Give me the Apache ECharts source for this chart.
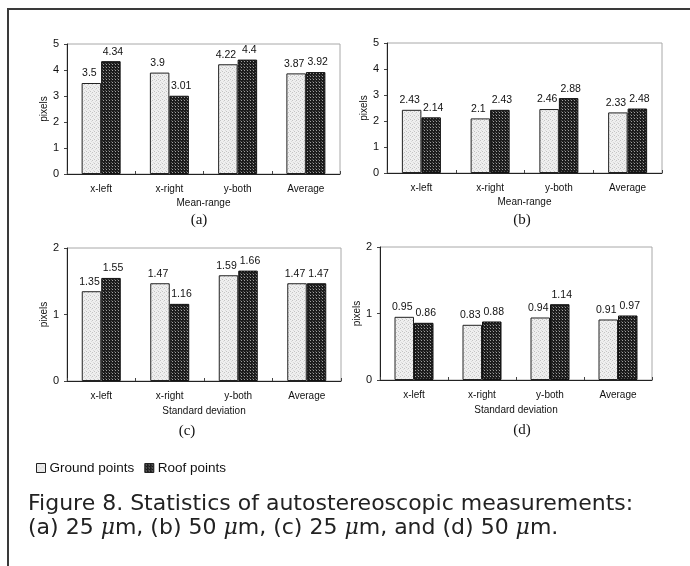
<!DOCTYPE html>
<html>
<head>
<meta charset="utf-8">
<script src="https://cdn.jsdelivr.net/npm/echarts@6/dist/echarts.min.js"></script>
<style>
  html, body { margin: 0; padding: 0; background: #fff; }
  #chart { width: 690px; height: 566px; }
</style>
</head>
<body>
<div id="chart"></div>
<script>
// data
const categories = ['x-left', 'x-right', 'y-both', 'Average'];
const groundA = [3.5, 3.9, 4.22, 3.87];
const roofA = [4.34, 3.01, 4.4, 3.92];
const groundB = [2.43, 2.1, 2.46, 2.33];
const roofB = [2.14, 2.43, 2.88, 2.48];
const groundC = [1.35, 1.47, 1.59, 1.47];
const roofC = [1.55, 1.16, 1.66, 1.47];
const groundD = [0.95, 0.83, 0.94, 0.91];
const roofD = [0.86, 0.88, 1.14, 0.97];
const yMax = [5, 5, 2, 2];
const xTitles = ['Mean-range', 'Mean-range', 'Standard deviation', 'Standard deviation'];
const panelLabels = ['(a)', '(b)', '(c)', '(d)'];
const seriesNames = ['Ground points', 'Roof points'];

const groundData = [groundA, groundB, groundC, groundD];
const roofData = [roofA, roofB, roofC, roofD];

// plot boxes: left, top, width, height
const boxes = [
  [67, 44, 273, 130],
  [387, 43, 275, 130],
  [67, 248, 274, 133],
  [380, 247, 272, 133],
];
const panelLabelPos = [[199, 220], [522, 220], [187, 431], [522, 430]];
const yNameGap = [15, 17, 15, 14];

// bar fill patterns (scanned halftone look)
function makePattern(size, fill) {
  const c = document.createElement('canvas');
  c.width = size;
  c.height = size;
  const ctx = c.getContext('2d');
  fill(ctx);
  return { image: c, repeat: 'repeat' };
}
const groundPattern = makePattern(4, (ctx) => {
  ctx.fillStyle = '#efefef';
  ctx.fillRect(0, 0, 4, 4);
  ctx.fillStyle = '#c4c4c4';
  ctx.fillRect(0, 0, 1, 1);
  ctx.fillRect(2, 3, 1, 1);
  ctx.fillStyle = '#dadada';
  ctx.fillRect(3, 1, 1, 1);
  ctx.fillRect(1, 2, 1, 1);
});
const roofPattern = makePattern(3, (ctx) => {
  ctx.fillStyle = '#1c1c1c';
  ctx.fillRect(0, 0, 3, 3);
  ctx.fillStyle = '#a0a0a0';
  ctx.fillRect(1, 1, 1, 1);
  ctx.fillStyle = '#555';
  ctx.fillRect(0, 0, 1, 1);
});

const font = 'Liberation Sans';

const chart = echarts.init(document.getElementById('chart'), null, { renderer: 'canvas' });

const grid = boxes.map(([left, top, width, height]) => ({
  left, top, width, height,
  show: true,
  borderColor: '#a8a8a8',
  borderWidth: 1,
}));

const xAxis = boxes.map((b, i) => ({
  type: 'category',
  gridIndex: i,
  data: categories,
  name: xTitles[i],
  nameLocation: 'middle',
  nameGap: i < 2 ? 24 : 25,
  nameTextStyle: { fontFamily: font, fontSize: 10, color: '#111' },
  axisLine: { lineStyle: { color: '#222', width: 1 } },
  axisTick: { show: true, inside: true, length: 3, lineStyle: { color: '#444' } },
  axisLabel: { fontFamily: font, fontSize: 10, color: '#111', margin: 10 },
  splitLine: { show: false },
}));

const yAxis = boxes.map((b, i) => ({
  type: 'value',
  gridIndex: i,
  min: 0,
  max: yMax[i],
  interval: 1,
  name: 'pixels',
  nameLocation: 'middle',
  nameGap: yNameGap[i],
  nameTextStyle: { fontFamily: font, fontSize: 10, color: '#111' },
  axisLine: { show: true, lineStyle: { color: '#222', width: 1 } },
  axisTick: { show: true, length: 3, lineStyle: { color: '#444' } },
  axisLabel: { fontFamily: font, fontSize: 11, color: '#111', margin: 8 },
  splitLine: { show: false },
}));

// labels nudged apart a little so neighbouring values stay readable
function barLabel(dx) {
  return {
    show: true,
    position: 'top',
    distance: 4,
    offset: [dx, 0],
    fontFamily: font,
    fontSize: 10.5,
    color: '#111',
  };
}

const series = [];
boxes.forEach((b, i) => {
  series.push({
    name: seriesNames[0],
    type: 'bar',
    xAxisIndex: i,
    yAxisIndex: i,
    data: groundData[i],
    barWidth: 19.5,
    barGap: '0%',
    itemStyle: { color: groundPattern, borderColor: '#222', borderWidth: 1 },
    label: barLabel(-2),
    emphasis: { disabled: true },
  });
  series.push({
    name: seriesNames[1],
    type: 'bar',
    xAxisIndex: i,
    yAxisIndex: i,
    data: roofData[i],
    barWidth: 19.5,
    barGap: '0%',
    itemStyle: { color: roofPattern, borderColor: '#111', borderWidth: 1 },
    label: barLabel(2),
    emphasis: { disabled: true },
  });
});

const graphic = [
  // outer frame (right and bottom edges fall outside the picture)
  {
    type: 'rect',
    shape: { x: 8, y: 9, width: 720, height: 600 },
    style: { fill: 'none', stroke: '#3a3a3a', lineWidth: 2 },
    silent: true,
  },
  ...panelLabels.map((t, i) => ({
    type: 'text',
    x: panelLabelPos[i][0],
    y: panelLabelPos[i][1],
    style: {
      text: t,
      fontFamily: 'Liberation Serif',
      fontSize: 15,
      fill: '#111',
      align: 'center',
      verticalAlign: 'middle',
    },
  })),
  {
    type: 'text',
    x: 28,
    y: 492,
    style: {
      text: 'Figure 8. Statistics of autostereoscopic measurements:\n'
        + '(a) 25 {mu|μ}m, (b) 50 {mu|μ}m, (c) 25 {mu|μ}m, and (d) 50 {mu|μ}m.',
      fontFamily: 'DejaVu Sans',
      fontSize: 22,
      lineHeight: 24,
      fill: '#222',
      rich: {
        mu: { fontFamily: 'DejaVu Serif', fontStyle: 'italic', fontSize: 22, fill: '#222' },
      },
    },
  },
];

const option = {
  animation: false,
  backgroundColor: '#fff',
  legend: {
    left: 31,
    top: 456,
    itemWidth: 9,
    itemHeight: 9,
    itemGap: 10,
    icon: 'rect',
    data: seriesNames,
    itemStyle: { borderColor: '#222', borderWidth: 1 },
    textStyle: { fontFamily: font, fontSize: 13.5, color: '#111', padding: [0, 0, 0, -1] },
  },
  grid,
  xAxis,
  yAxis,
  series,
  graphic,
};

chart.setOption(option);
</script>
</body>
</html>
